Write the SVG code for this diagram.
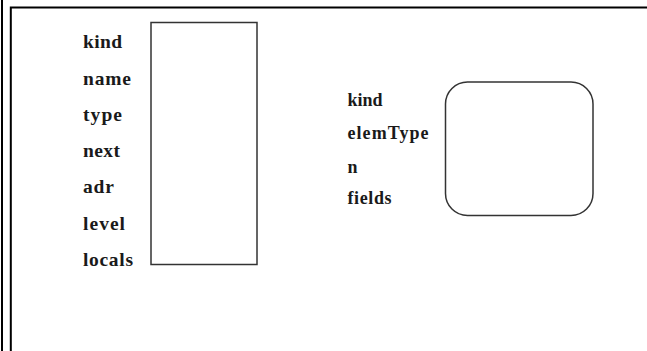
<svg xmlns="http://www.w3.org/2000/svg" width="647" height="351" viewBox="0 0 647 351">
<style>
.lbl{font-family:"Liberation Serif","Times New Roman",serif;font-weight:bold;font-size:19.5px;fill:#1a1a1a}
.lbr{font-family:"Liberation Serif","Times New Roman",serif;font-weight:bold;font-size:18px;fill:#1a1a1a}
.box{fill:#fff;stroke:#333;stroke-width:1.5}
.frame{fill:none;stroke:#000;stroke-width:2}
</style>
<rect width="647" height="351" fill="#fff"/>
<g id="frame">
<line class="frame" x1="2" y1="0" x2="2" y2="351"/>
<polyline class="frame" points="10.8,351 10.8,7.5 647,7.5"/>
</g>
<g id="node-left">
<rect class="box" x="151" y="22.5" width="106" height="242"/>
<text class="lbl" x="83" y="48" textLength="39" lengthAdjust="spacing">kind</text>
<text class="lbl" x="83" y="84.5" textLength="48" lengthAdjust="spacing">name</text>
<text class="lbl" x="83" y="120.7" textLength="39" lengthAdjust="spacing">type</text>
<text class="lbl" x="83" y="157" textLength="37" lengthAdjust="spacing">next</text>
<text class="lbl" x="83" y="193.2" textLength="31" lengthAdjust="spacing">adr</text>
<text class="lbl" x="83" y="229.5" textLength="42" lengthAdjust="spacing">level</text>
<text class="lbl" x="83" y="265.8" textLength="50" lengthAdjust="spacing">locals</text>
</g>
<g id="node-right">
<rect class="box" x="445.5" y="82" width="147.5" height="133.5" rx="22" ry="22"/>
<text class="lbr" x="347.5" y="106" textLength="35" lengthAdjust="spacing">kind</text>
<text class="lbr" x="347.5" y="139" textLength="81" lengthAdjust="spacing">elemType</text>
<text class="lbr" x="347.5" y="172.5">n</text>
<text class="lbr" x="347.5" y="204" textLength="44" lengthAdjust="spacing">fields</text>
</g>
<g id="connectors"></g>
</svg>
